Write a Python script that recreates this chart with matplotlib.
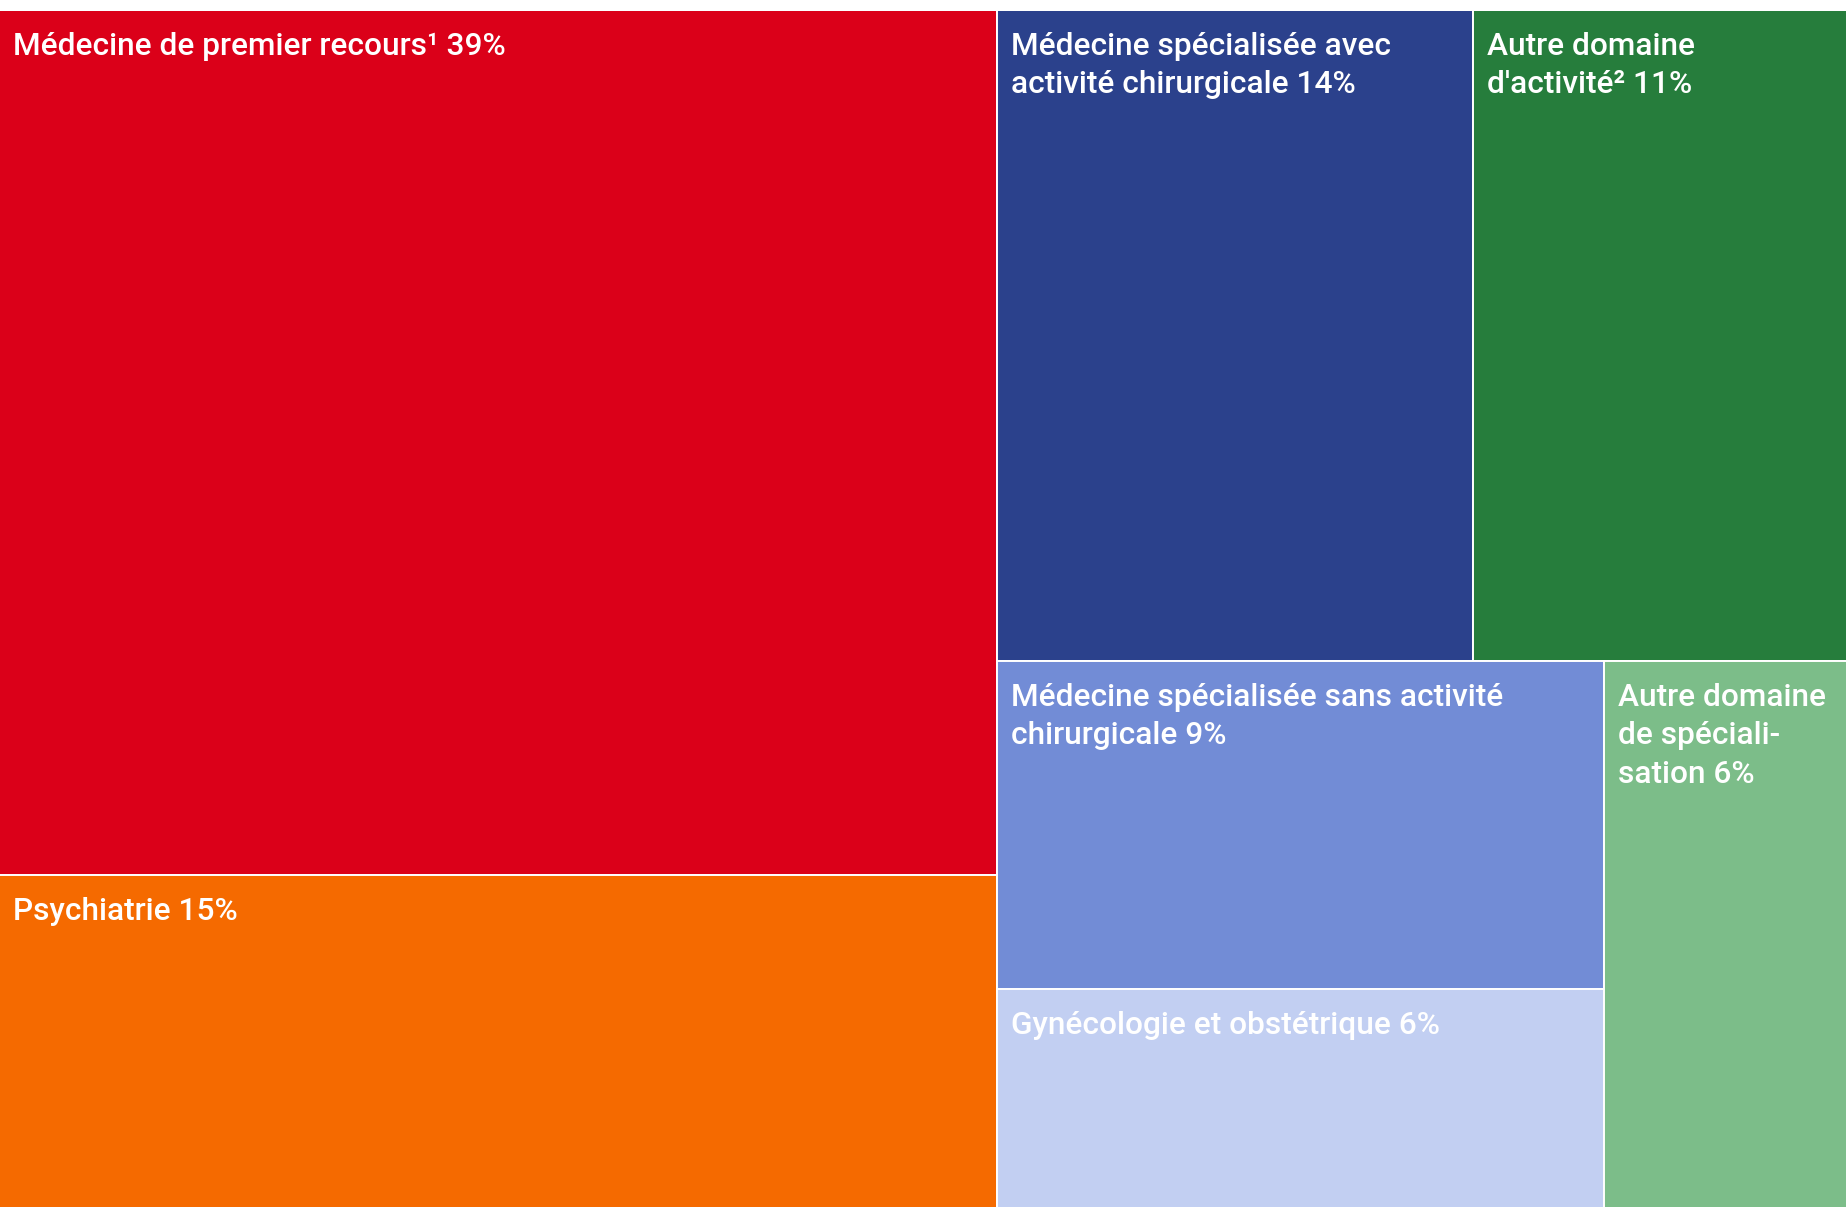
import matplotlib
matplotlib.use("Agg")
import matplotlib.pyplot as plt
from matplotlib.patches import Rectangle

plt.rcParams['font.family'] = ['Roboto', 'DejaVu Sans']

# data
labels = [
    "Médecine de premier recours¹ 39%",
    "Psychiatrie 15%",
    "Médecine spécialisée avec\nactivité chirurgicale 14%",
    "Autre domaine\nd'activité² 11%",
    "Médecine spécialisée sans activité\nchirurgicale 9%",
    "Gynécologie et obstétrique 6%",
    "Autre domaine\nde spéciali-\nsation 6%",
]
values = [39, 15, 14, 11, 9, 6, 6]
colors = ["#DB0019", "#F56A00", "#2B418C", "#267D3C", "#728CD6", "#C2CFF2", "#7CBD89"]

# split tree: "h" = side by side, "v" = stacked
tree = ("h", [("v", [0, 1]),
              ("v", [("h", [2, 3]),
                     ("h", [("v", [4, 5]), 6])])])

W, H = 1846, 1196


def total(node):
    if isinstance(node, int):
        return values[node]
    return sum(total(c) for c in node[1])


def layout(node, x, y, w, h, out):
    if isinstance(node, int):
        out[node] = (x, y, w, h)
        return
    d, kids = node
    s = total(node)
    pos = 0.0
    for k in kids:
        f = total(k) / s
        if d == "h":
            layout(k, x + pos * w, y, f * w, h, out)
        else:
            layout(k, x, y + pos * h, w, f * h, out)
        pos += f


rects = {}
layout(tree, 0, 0, W, H, rects)

fig = plt.figure(figsize=(18.46, 12.07), dpi=100)
ax = fig.add_axes([0, 0, 1, H / 1207])
# pull the limits in a bit so the outer half of the white edges is clipped
ax.set_xlim(1, W - 1)
ax.set_ylim(H - 1, 1)
ax.axis("off")

for i, (x, y, w, h) in rects.items():
    ax.add_patch(Rectangle((x, y), w, h, facecolor=colors[i],
                           edgecolor="white", linewidth=1.4))
    ax.text(x + 14, y + 22, labels[i], color="white", fontsize=22.8,
            fontweight="medium", va="top", ha="left", linespacing=1.4)

fig.savefig("out.png", dpi=100)
